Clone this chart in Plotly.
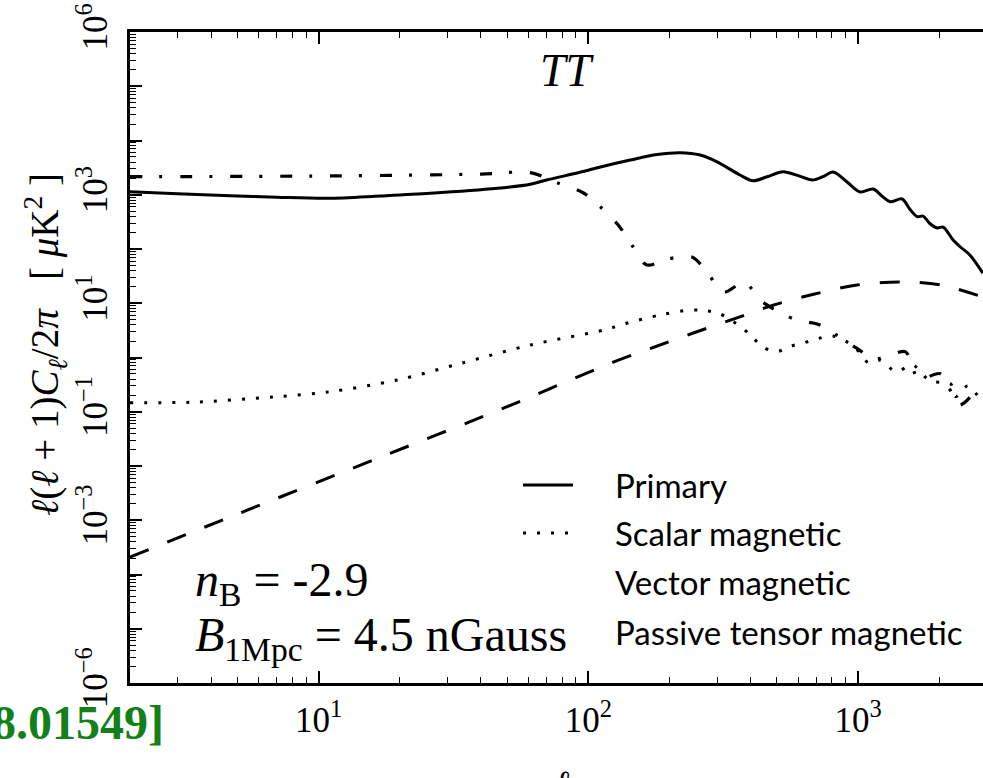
import math
import plotly.graph_objects as go

# ---------------- data ----------------
primary_l = [2, 3, 4.7, 7, 10.8, 17, 26, 46, 61, 70, 93, 111, 143, 180, 219, 260, 300, 365, 408,
             460, 527, 600, 676, 740, 808, 908, 1017, 1137, 1234, 1314, 1456, 1556, 1655, 1742,
             1840, 1963, 2066, 2250, 2388, 2600, 2900]
primary_v = [1137, 1040, 961, 900, 859, 950, 1062, 1313, 1560, 1870, 2590, 3250, 4360, 5500, 5960,
             5400, 4050, 2310, 1815, 2150, 2660, 2250, 1870, 2150, 2625, 1740, 1125, 1277, 920,
             745, 836, 540, 394, 405, 298, 244, 254, 146, 110, 77, 36]

scalar_l = [2, 3.4, 6.8, 11, 19.6, 34, 61, 117, 132, 188, 239, 268, 303, 372, 408, 443, 500, 557,
            626, 703, 800, 900, 1017, 1090, 1200, 1385, 1590, 1850, 2200, 2300, 2550, 2840]
scalar_v = [0.147, 0.15, 0.187, 0.234, 0.385, 0.79, 1.7, 3.3, 4.0, 6.2, 7.5, 7.3, 6.6, 3.5, 2.3,
            1.56, 1.28, 1.6, 1.85, 2.2, 2.5, 2.0, 1.23, 0.80, 0.9, 0.55, 0.73, 0.37, 0.33, 0.19,
            0.3, 0.165]

vector_l = [2, 11, 40, 61, 77, 96, 111, 129, 145, 164, 196, 242, 278, 317, 378, 443, 592, 710,
            822, 985, 1155, 1350, 1500, 1680, 2020, 2370, 2760]
vector_v = [2150, 2220, 2400, 2550, 1650, 1077, 594, 277, 118, 51, 65, 71, 35, 16, 24, 10.5, 4.9,
            4.1, 2.7, 1.5, 0.94, 1.16, 1.27, 0.40, 0.50, 0.133, 0.27]

tensor_l = [2, 5, 17, 50, 123, 174, 245, 345, 487, 690, 990, 1420, 2030, 2900]
tensor_v = [2.1e-4, 1.3e-3, 0.0146, 0.124, 0.81, 1.53, 2.83, 5.1, 9.3, 14.8, 21.7, 24.7, 21.7, 13]

legend_names = ["Primary", "Scalar magnetic", "Vector magnetic", "Passive tensor magnetic"]
x_tick_vals = [10, 100, 1000]
x_tick_text = ["10<sup>1</sup>", "10<sup>2</sup>", "10<sup>3</sup>"]
y_label_exps = [6, 3, 1, -1, -3, -6]

# ---------------- layout geometry ----------------
W, H = 983, 778
L, T, B, R = 130, 32, 95, 0
PW, PH = W - L - R, H - T - B


def px(x):
    return (x - L) / PW


def py(y):
    return (H - B - y) / PH


SERIF = "Liberation Serif"
SANS = "Lato"

fig = go.Figure()
fig.add_trace(go.Scatter(x=primary_l, y=primary_v, mode="lines", name=legend_names[0],
                         line=dict(color="black", width=3, shape="spline", smoothing=0.9)))
fig.add_trace(go.Scatter(x=scalar_l, y=scalar_v, mode="lines", name=legend_names[1],
                         line=dict(color="black", width=3, dash="3px,11px", shape="spline",
                                   smoothing=0.9)))
fig.add_trace(go.Scatter(x=vector_l, y=vector_v, mode="lines", name=legend_names[2],
                         line=dict(color="black", width=3.2, dash="12px,17px,3px,18px",
                                   shape="spline", smoothing=0.9)))
fig.add_trace(go.Scatter(x=tensor_l, y=tensor_v, mode="lines", name=legend_names[3],
                         line=dict(color="black", width=3, dash="20px,20px", shape="spline",
                                   smoothing=0.9)))

x_minor = [d * 10 ** k for k in range(0, 4) for d in range(2, 10)]
y_major = [10.0 ** k for k in range(-6, 7)]
y_text = [("10<sup>%s</sup>" % ("\u2212%d" % -k if k < 0 else str(k))) if k in y_label_exps else ""
          for k in range(-6, 7)]
y_minor = [d * 10.0 ** k for k in range(-6, 6) for d in range(2, 10)]

fig.update_xaxes(type="log", range=[math.log10(2), math.log10(10 ** (1 + (W - 318) / 270))],
                 showline=True, linecolor="black", linewidth=3, mirror="allticks",
                 ticks="inside", ticklen=12, tickwidth=1.5, tickcolor="black",
                 tickmode="array", tickvals=x_tick_vals, ticktext=x_tick_text,
                 tickfont=dict(family=SERIF, size=35, color="black"), ticklabelstandoff=4,
                 minor=dict(tickmode="array", tickvals=x_minor, ticks="inside", ticklen=6,
                            tickwidth=1.2, tickcolor="black"),
                 showgrid=False, zeroline=False)
fig.update_yaxes(type="log", range=[-6, 6],
                 showline=True, linecolor="black", linewidth=3, mirror=False,
                 ticks="inside", ticklen=12, tickwidth=1.5, tickcolor="black",
                 tickmode="array", tickvals=y_major, ticktext=y_text, tickangle=-90,
                 tickfont=dict(family=SERIF, size=35, color="black"), ticklabelstandoff=6,
                 minor=dict(tickmode="array", tickvals=y_minor, ticks="inside", ticklen=6,
                            tickwidth=1.2, tickcolor="black"),
                 showgrid=False, zeroline=False)


def note(x, y, text, size, family=SERIF, color="black", xanchor="center", yanchor="middle",
         angle=0):
    return dict(x=px(x), y=py(y), xref="paper", yref="paper", xanchor=xanchor, yanchor=yanchor,
                textangle=angle, showarrow=False, text=text,
                font=dict(family=family, size=size, color=color))


ann = [
    note(46, 345,
         "<i>\u2113</i>(<i>\u2113</i> + 1)<i>C</i><sub><i>\u2113</i></sub>/2<i>\u03c0</i>"
         "   [ <i>\u03bc</i>K<sup>2</sup> ]", 39, angle=-90),
    note(562, 762, "<i>\u2113</i>", 34, yanchor="top"),
    note(567, 70, "<i>TT</i>", 46),
    note(193, 583, "<i>n</i><sub>B</sub> = -2.9", 48, xanchor="left"),
    note(193, 638, "<i>B</i><sub>1Mpc</sub> = 4.5 nGauss", 48, xanchor="left"),
    note(166, 722, "<b>8.01549]</b>", 48, color="#13801a", xanchor="right"),
    note(845, 766, "<b>A. T</b>", 44, color="#13801a", xanchor="left", yanchor="top"),
]
for name, yy in zip(legend_names, [485, 533, 582, 632]):
    ann.append(note(613, yy, name, 33, family=SANS, xanchor="left"))

shapes = [
    dict(type="line", xref="paper", yref="paper", x0=px(523), x1=px(573), y0=py(485), y1=py(485),
         line=dict(color="black", width=3)),
    dict(type="line", xref="paper", yref="paper", x0=px(523), x1=px(573), y0=py(533), y1=py(533),
         line=dict(color="black", width=3, dash="3px,11px")),
]

fig.update_layout(width=W, height=H, margin=dict(l=L, r=R, t=T, b=B, autoexpand=False),
                  paper_bgcolor="white", plot_bgcolor="white", showlegend=False,
                  annotations=ann, shapes=shapes)

fig.write_html("out.html")
